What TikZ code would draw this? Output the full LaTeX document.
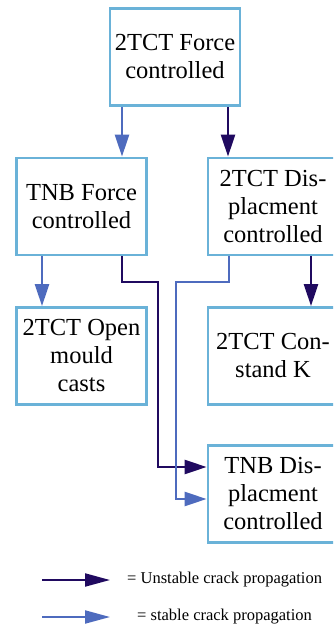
\documentclass[tikz,border=0pt]{standalone}
\usepackage{fontspec}
\setmainfont{Liberation Serif}
\usetikzlibrary{arrows.meta}
\definecolor{boxc}{HTML}{6AB2D8}
\definecolor{darkc}{HTML}{200A60}
\definecolor{bluec}{HTML}{4E6BBE}
\tikzset{
  box/.style={draw=boxc, line width=2.8pt, fill=white, minimum width=130pt, minimum height=97pt,
    align=center, inner sep=2pt, font=\rmfamily\fontsize{24.5}{28}\selectfont},
  unstable/.style={draw=darkc, line width=2.6pt, -{Triangle[length=22pt,width=14pt]}},
  stable/.style={draw=bluec, line width=2.6pt, -{Triangle[length=22pt,width=14pt]}},
  legdark/.style={draw=darkc, line width=2pt, -{Triangle[length=25pt,width=13pt]}},
  legblue/.style={draw=bluec, line width=2pt, -{Triangle[length=25pt,width=13pt]}},
  legtext/.style={anchor=west, inner sep=0pt, font=\rmfamily\fontsize{16.5}{19}\selectfont}
}
\begin{document}
\begin{tikzpicture}[x=1pt,y=-1pt]
\path[use as bounding box, clip] (0,0) rectangle (333,628);
\fill[white] (0,0) rectangle (333,628);
\node[box] (top) at (175,57) {2TCT Force\\controlled};
\node[box] (tnbf) at (81.5,206.5) {TNB Force\\controlled};
\node[box] (tctd) at (273,206.5) {2TCT Dis-\\placment\\controlled};
\node[box] (open) at (81.5,356) {2TCT Open\\mould\\casts};
\node[box] (constk) at (273,356) {2TCT Con-\\stand K};
\node[box] (tnbd) at (273,494) {TNB Dis-\\placment\\controlled};
% connectors
\draw[stable] (top.south -| 122,0) -- (tnbf.north -| 122,0);
\draw[unstable] (top.south -| 228,0) -- (tctd.north -| 228,0);
\draw[stable] (tnbf.south -| 42,0) -- (open.north -| 42,0);
\draw[unstable] (tctd.south -| 311,0) -- (constk.north -| 311,0);
\draw[unstable] (tnbf.south -| 122,0) -- (122,282) -- (158,282) -- (158,467) -- (tnbd.west |- 0,467);
\draw[stable] (tctd.south -| 229,0) -- (229,282) -- (176,282) -- (176,499) -- (tnbd.west |- 0,499);
% legend
\coordinate (l1a) at (42,580);
\coordinate (l1b) at (110,580);
\coordinate (l2a) at (42,617);
\coordinate (l2b) at (110,617);
\draw[legdark] (l1a) -- (l1b);
\draw[legblue] (l2a) -- (l2b);
\node[legtext] (t1) at (127,580) {= Unstable crack propagation};
\node[legtext] (t2) at (137,617) {= stable crack propagation};
\end{tikzpicture}
\end{document}
